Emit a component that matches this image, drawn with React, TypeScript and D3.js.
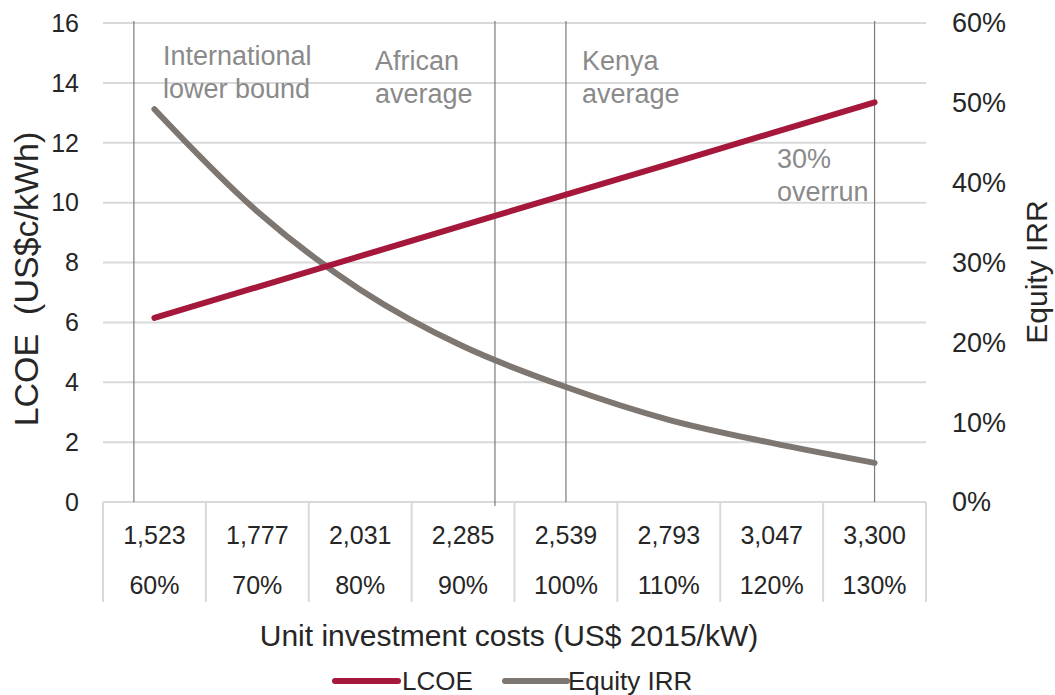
import React from "react";
import * as d3 from "d3";

const categories = ["1,523", "1,777", "2,031", "2,285", "2,539", "2,793", "3,047", "3,300"];
const shares = ["60%", "70%", "80%", "90%", "100%", "110%", "120%", "130%"];
const lcoe = [6.15, 7.18, 8.21, 9.24, 10.27, 11.29, 12.32, 13.35];
const equityIrr = [0.492, 0.364, 0.266, 0.195, 0.144, 0.103, 0.074, 0.049];
const leftTicks = [0, 2, 4, 6, 8, 10, 12, 14, 16];
const rightTicks = [0, 0.1, 0.2, 0.3, 0.4, 0.5, 0.6];
// annotation positions in category-index units
const annotations = [
  { pos: -0.2, lines: ["International", "lower bound"], tx: 163, ty: 65 },
  { pos: 3.31, lines: ["African", "average"], tx: 375, ty: 70 },
  { pos: 4.0, lines: ["Kenya", "average"], tx: 582, ty: 70 },
  { pos: 7.0, lines: ["30%", "overrun"], tx: 777, ty: 168 },
];

const W = 1055;
const H = 695;
const left = 103;
const right = 926;
const top = 23;
const bottom = 502;
const FONT = "'Liberation Sans', Arial, sans-serif";
const RED = "#a5173b";
const GRAY = "#7d7671";
const INK = "#262626";

export default function App() {
  const x = d3.scaleLinear().domain([-0.5, categories.length - 0.5]).range([left, right]);
  const yL = d3.scaleLinear().domain([0, 16]).range([bottom, top]);
  const yR = d3.scaleLinear().domain([0, 0.6]).range([bottom, top]);

  const lcoeLine = d3
    .line<number>()
    .x((_, i) => x(i))
    .y((d) => yL(d));
  const irrLine = d3
    .line<number>()
    .x((_, i) => x(i))
    .y((d) => yR(d))
    .curve(d3.curveCatmullRom.alpha(0.5));

  const dividers = d3.range(categories.length + 1).map((i) => x(i - 0.5));

  return (
    <svg
      width={W}
      height={H}
      style={{ position: "absolute", left: 0, top: 0, background: "#fff" }}
      fontFamily={FONT}
    >
      <rect x={0} y={0} width={W} height={H} fill="#fff" />
      {/* gridlines */}
      {leftTicks.map((t) => (
        <line key={"g" + t} x1={left} x2={right} y1={yL(t)} y2={yL(t)} stroke="#d9d9d9" strokeWidth={2} />
      ))}
      {/* category dividers */}
      {dividers.map((d, i) => (
        <line key={"d" + i} x1={d} x2={d} y1={bottom} y2={602} stroke="#d9d9d9" strokeWidth={2} />
      ))}
      {/* annotation vertical lines */}
      {annotations.map((a, i) => (
        <line key={"a" + i} x1={x(a.pos)} x2={x(a.pos)} y1={21} y2={i === 1 ? 506 : bottom} stroke="#7a7a7a" strokeWidth={1.2} />
      ))}
      {/* annotation texts */}
      {annotations.map((a, i) => (
        <text key={"at" + i} x={a.tx} y={a.ty} fontSize={27} fill="#8a8a8a">
          {a.lines.map((l, j) => (
            <tspan key={j} x={a.tx} dy={j === 0 ? 0 : 33}>
              {l}
            </tspan>
          ))}
        </text>
      ))}
      {/* left ticks */}
      {leftTicks.map((t) => (
        <text key={"l" + t} x={79} y={yL(t)} dy="0.35em" textAnchor="end" fontSize={25} fill={INK}>
          {t}
        </text>
      ))}
      {/* right ticks */}
      {rightTicks.map((t) => (
        <text key={"r" + t} x={952} y={yR(t)} dy="0.35em" textAnchor="start" fontSize={27} fill={INK}>
          {d3.format(".0%")(t)}
        </text>
      ))}
      {/* axis titles */}
      <text
        transform={`translate(38,279) rotate(-90)`}
        textAnchor="middle"
        fontSize={34}
        fill={INK}
        style={{ whiteSpace: "pre" }}
      >
        {"LCOE  (US$c/kWh)"}
      </text>
      <text transform={`translate(1047,272) rotate(-90)`} textAnchor="middle" fontSize={30} fill={INK}>
        Equity IRR
      </text>
      {/* category labels */}
      {categories.map((c, i) => (
        <text key={"c" + i} x={x(i)} y={535} dy="0.35em" textAnchor="middle" fontSize={25} fill={INK}>
          {c}
        </text>
      ))}
      {shares.map((s, i) => (
        <text key={"s" + i} x={x(i)} y={585} dy="0.35em" textAnchor="middle" fontSize={25} fill={INK}>
          {s}
        </text>
      ))}
      <text x={509} y={635} dy="0.35em" textAnchor="middle" fontSize={30} fill={INK}>
        Unit investment costs (US$ 2015/kW)
      </text>
      {/* lines */}
      <path d={irrLine(equityIrr) || ""} fill="none" stroke={GRAY} strokeWidth={6} strokeLinecap="round" />
      <path d={lcoeLine(lcoe) || ""} fill="none" stroke={RED} strokeWidth={6} strokeLinecap="round" />
      {/* legend */}
      <line x1={335} x2={398} y1={681} y2={681} stroke={RED} strokeWidth={6} strokeLinecap="round" />
      <text x={402} y={681} dy="0.35em" fontSize={26} fill={INK}>
        LCOE
      </text>
      <line x1={505} x2={567} y1={681} y2={681} stroke={GRAY} strokeWidth={6} strokeLinecap="round" />
      <text x={568} y={681} dy="0.35em" fontSize={26} fill={INK}>
        Equity IRR
      </text>
    </svg>
  );
}
